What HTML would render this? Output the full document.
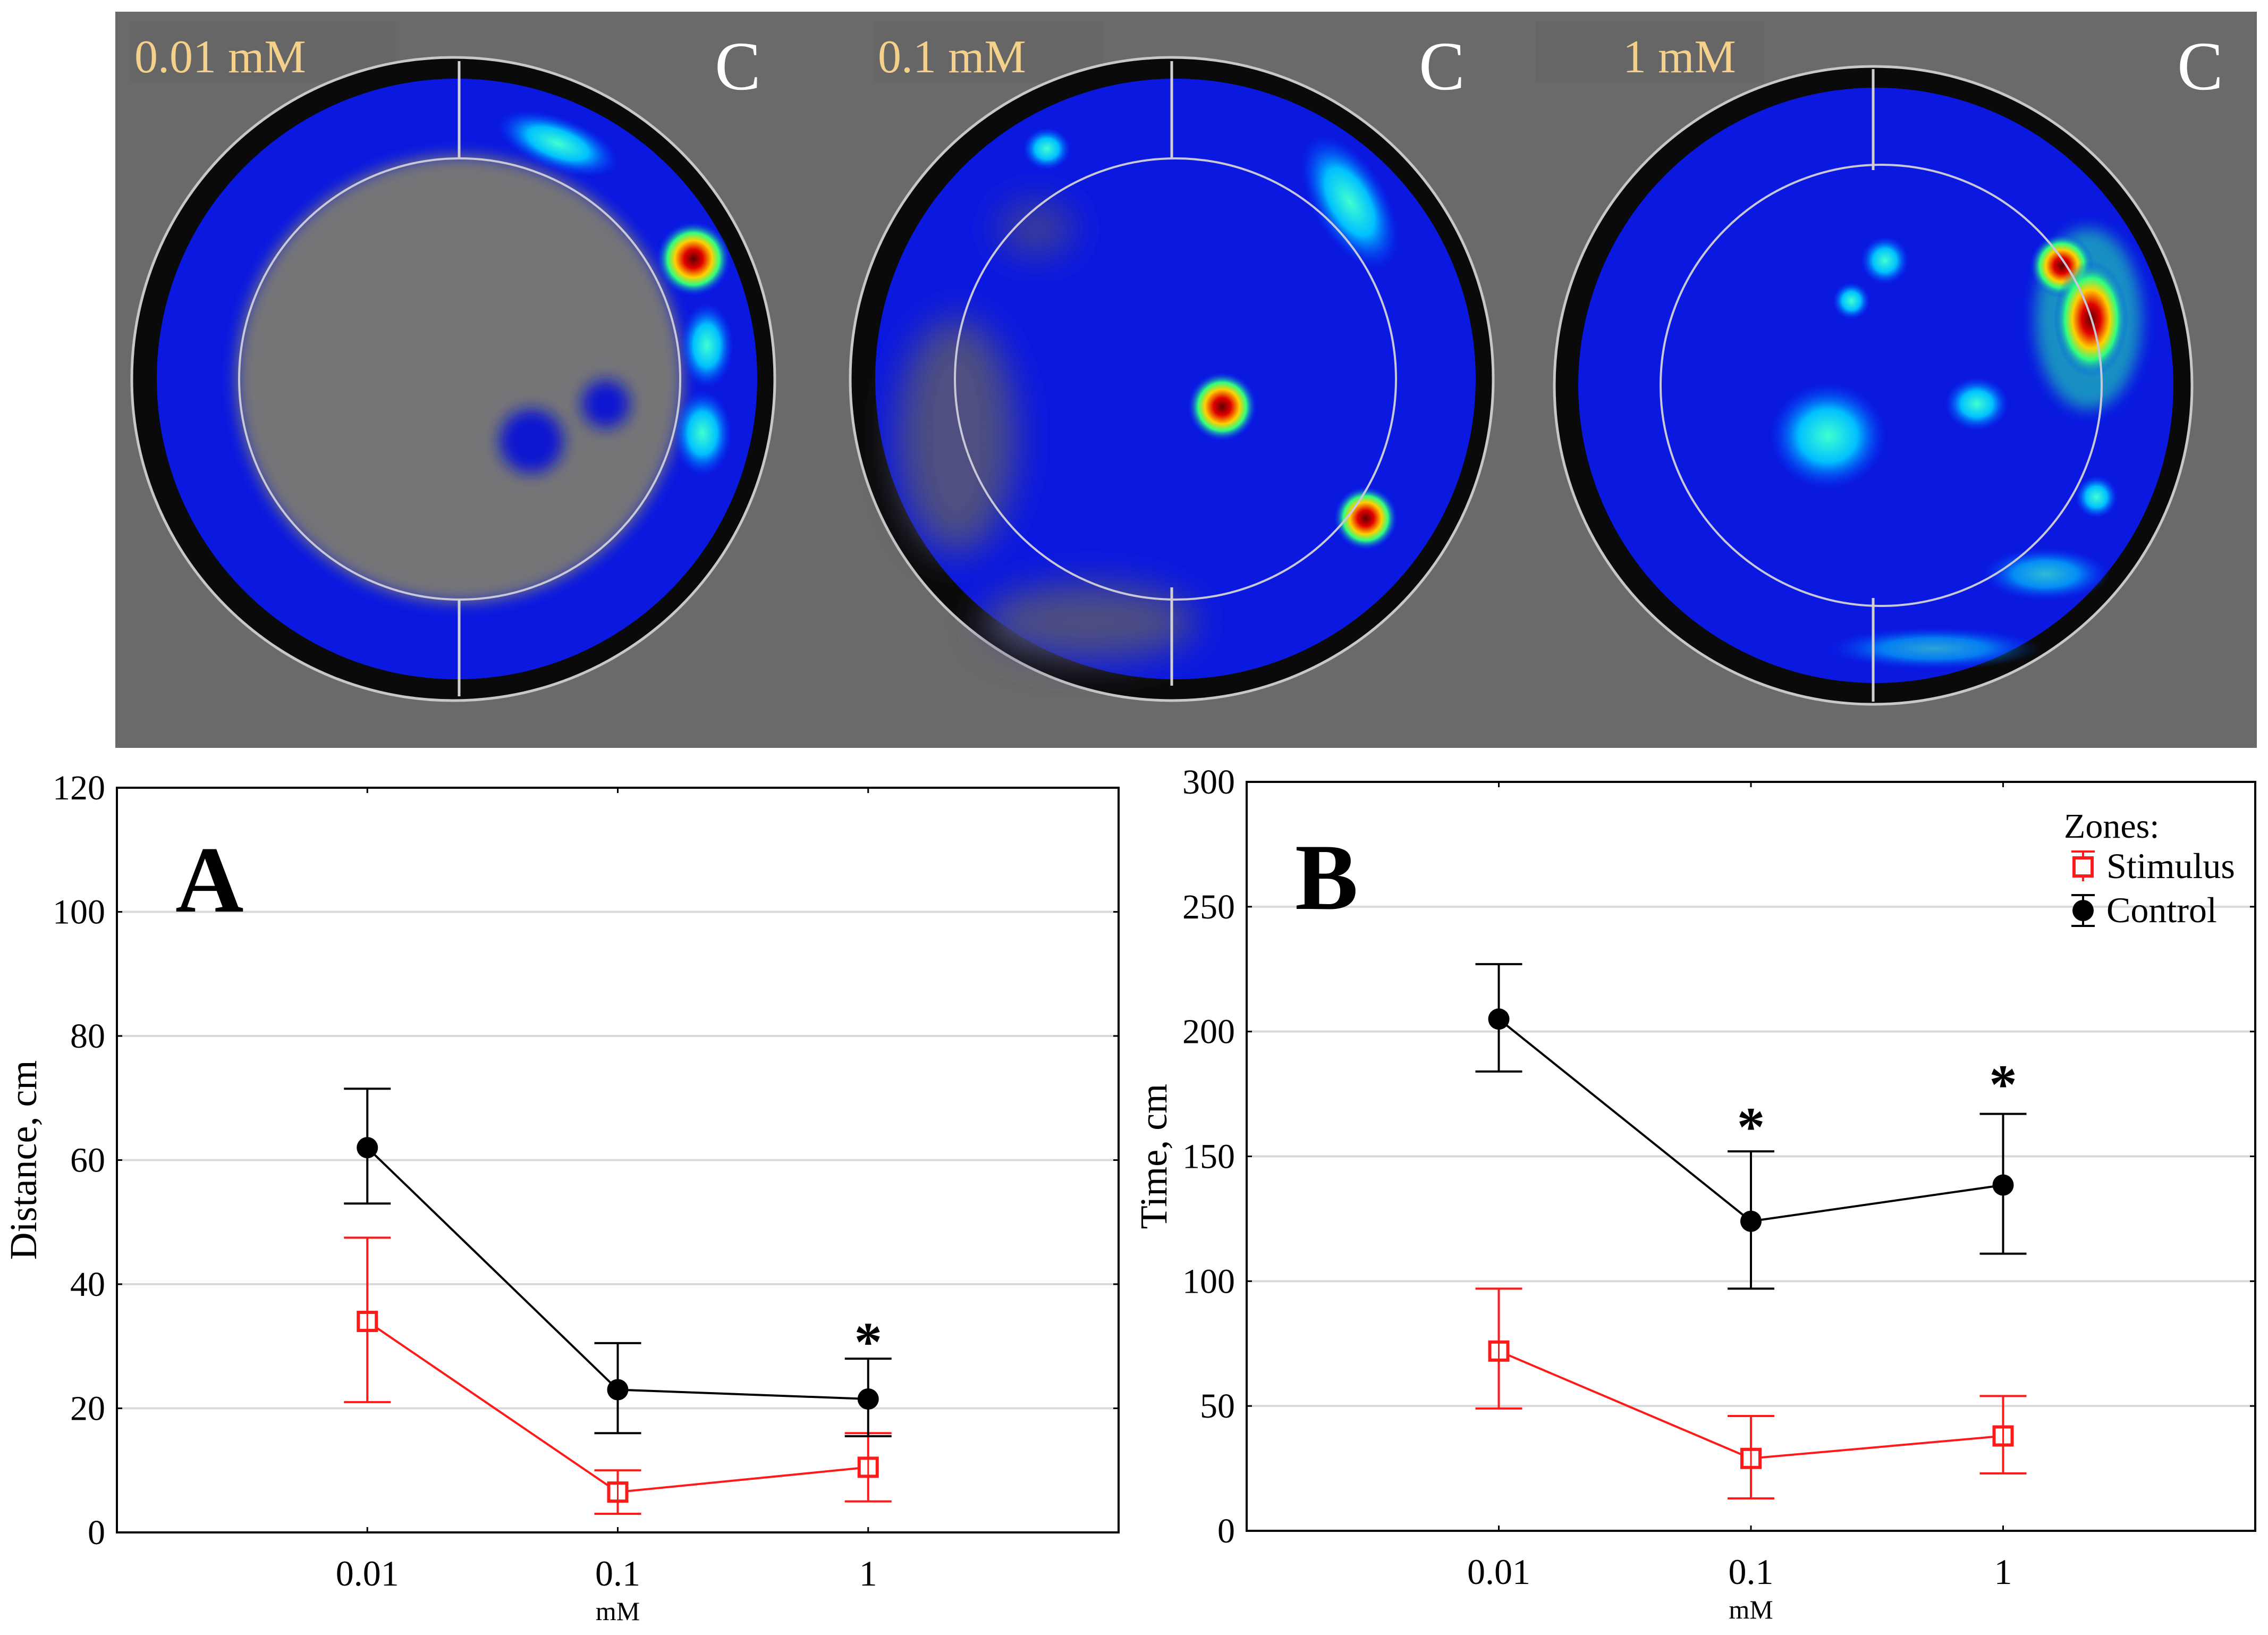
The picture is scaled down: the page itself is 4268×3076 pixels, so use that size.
<!DOCTYPE html>
<html><head><meta charset="utf-8"><style>
html,body{margin:0;padding:0;background:#fff;}
svg{display:block;}
text{font-family:"Liberation Serif",serif;}
</style></head><body>
<svg id="fig" width="4268" height="3076" viewBox="0 0 4268 3076" xmlns="http://www.w3.org/2000/svg">
<defs>
<filter id="bl" x="-50%" y="-50%" width="200%" height="200%"><feGaussianBlur stdDeviation="35"/></filter>
<filter id="bl2" x="-50%" y="-50%" width="200%" height="200%"><feGaussianBlur stdDeviation="14"/></filter>
<radialGradient id="hot"><stop offset="0" stop-color="#600000"/><stop offset="0.25" stop-color="#e00000"/><stop offset="0.5" stop-color="#ffd000"/><stop offset="0.7" stop-color="#30ff80"/><stop offset="1" stop-color="#0030ff" stop-opacity="0"/></radialGradient>
<radialGradient id="cyan"><stop offset="0" stop-color="#40ffd0"/><stop offset="0.5" stop-color="#00c0ff"/><stop offset="1" stop-color="#0040ff" stop-opacity="0"/></radialGradient>
</defs>
<g>
<rect x="217" y="22" width="4030" height="1385" fill="#6a6a6a"/>
<rect x="245" y="40" width="500" height="115" fill="#666"/>
<rect x="1645" y="40" width="430" height="115" fill="#666"/>
<rect x="2890" y="40" width="430" height="115" fill="#666"/>
<g>
<circle cx="853" cy="713" r="605" fill="#0a0a0a" stroke="#c8c8c8" stroke-width="5"/>
<circle cx="860" cy="713" r="565" fill="#0a18e0"/>
<circle cx="865" cy="713" r="420" fill="#747478" filter="url(#bl2)"/>
<circle cx="1000" cy="830" r="60" fill="#0a18d0" filter="url(#bl2)"/>
<circle cx="1140" cy="760" r="45" fill="#0a18d0" filter="url(#bl2)"/>
<ellipse cx="1050" cy="270" rx="120" ry="50" fill="url(#cyan)" transform="rotate(20 1050 270)"/>
<ellipse cx="1330" cy="650" rx="50" ry="80" fill="url(#cyan)"/>
<ellipse cx="1322" cy="815" rx="55" ry="80" fill="url(#cyan)"/>
<circle cx="1305" cy="487" r="70" fill="url(#hot)"/>
<circle cx="865" cy="713" r="415" fill="none" stroke="#c8c8d8" stroke-width="4"/>
<line x1="864" y1="115" x2="864" y2="297" stroke="#d0d0d0" stroke-width="5"/>
<line x1="864" y1="1128" x2="864" y2="1310" stroke="#d0d0d0" stroke-width="5"/>
</g>
<g>
<circle cx="2205" cy="713" r="605" fill="#0a0a0a" stroke="#c8c8c8" stroke-width="5"/>
<circle cx="2212" cy="713" r="565" fill="#0a18e0"/>
<ellipse cx="1800" cy="820" rx="110" ry="220" fill="#505080" filter="url(#bl)"/>
<ellipse cx="2050" cy="1170" rx="200" ry="70" fill="#505080" filter="url(#bl)"/>
<ellipse cx="1950" cy="430" rx="70" ry="50" fill="#404090" filter="url(#bl)"/>
<ellipse cx="2540" cy="380" rx="70" ry="140" fill="url(#cyan)" transform="rotate(-30 2540 380)"/>
<ellipse cx="1970" cy="280" rx="45" ry="40" fill="url(#cyan)"/>
<circle cx="2300" cy="765" r="65" fill="url(#hot)"/>
<circle cx="2570" cy="975" r="60" fill="url(#hot)"/>
<circle cx="2212" cy="713" r="415" fill="none" stroke="#c8c8d8" stroke-width="4"/>
<line x1="2205" y1="115" x2="2205" y2="297" stroke="#d0d0d0" stroke-width="5"/>
<line x1="2205" y1="1105" x2="2205" y2="1290" stroke="#d0d0d0" stroke-width="5"/>
</g>
<g>
<circle cx="3525" cy="725" r="600" fill="#0a0a0a" stroke="#c8c8c8" stroke-width="5"/>
<circle cx="3530" cy="725" r="560" fill="#0a18e0"/>
<ellipse cx="3440" cy="820" rx="110" ry="100" fill="url(#cyan)"/>
<ellipse cx="3720" cy="760" rx="60" ry="50" fill="url(#cyan)"/>
<ellipse cx="3850" cy="1080" rx="120" ry="50" fill="url(#cyan)" opacity="0.7"/>
<ellipse cx="3640" cy="1220" rx="200" ry="40" fill="url(#cyan)" opacity="0.6"/>
<ellipse cx="3930" cy="600" rx="100" ry="170" fill="#20e0b0" filter="url(#bl2)" opacity="0.6"/>
<ellipse cx="3880" cy="500" rx="60" ry="60" fill="url(#hot)"/>
<ellipse cx="3935" cy="600" rx="70" ry="110" fill="url(#hot)"/>
<circle cx="3547" cy="490" r="45" fill="url(#cyan)"/>
<circle cx="3484" cy="566" r="35" fill="url(#cyan)"/>
<circle cx="3945" cy="935" r="40" fill="url(#cyan)"/>
<circle cx="3540" cy="725" r="415" fill="none" stroke="#c8c8d8" stroke-width="4"/>
<line x1="3525" y1="130" x2="3525" y2="320" stroke="#d0d0d0" stroke-width="5"/>
<line x1="3525" y1="1125" x2="3525" y2="1320" stroke="#d0d0d0" stroke-width="5"/>
</g>
<text x="253" y="136" font-size="88" fill="#f5d08a">0.01 mM</text>
<text x="1652" y="136" font-size="88" fill="#f5d08a">0.1 mM</text>
<text x="3054" y="136" font-size="88" fill="#f5d08a">1 mM</text>
<text x="1345" y="168" font-size="130" fill="#fff">C</text>
<text x="2670" y="168" font-size="130" fill="#fff">C</text>
<text x="4097" y="168" font-size="130" fill="#fff">C</text>
</g>
<g id="chartA"></g>
<g id="chartB"></g>
</svg>
<script>
const categories = ["0.01","0.1","1"];
const aTicks = [0,20,40,60,80,100,120];
const aControl = [62,23,21.5];
const aControlLo = [53,16,15.5];
const aControlHi = [71.5,30.5,28];
const aStim = [34,6.5,10.5];
const aStimLo = [21,3,5];
const aStimHi = [47.5,10,16];
const aStars = [null,null,32];
const bTicks = [0,50,100,150,200,250,300];
const bControl = [205,124,138.5];
const bControlLo = [184,97,111];
const bControlHi = [227,152,167];
const bStim = [72,29,38];
const bStimLo = [49,13,23];
const bStimHi = [97,46,54];
const bStars = [null,165,182];

const NS="http://www.w3.org/2000/svg";
function mk(parent,tag,attrs,txt){const e=document.createElementNS(NS,tag);for(const k in attrs)e.setAttribute(k,attrs[k]);if(txt!==undefined)e.textContent=txt;parent.appendChild(e);return e;}

function drawChart(g,cfg){
  const L=cfg.left,R=cfg.right,T=cfg.top,B=cfg.bottom,maxV=cfg.ticks[cfg.ticks.length-1];
  const y=v=>B-(v/maxV)*(B-T);
  const x=i=>L+(R-L)*(0.25+i*0.25);
  for(const t of cfg.ticks){
    if(t>0&&t<maxV){const gl=mk(g,'line',{x1:L,x2:R,y1:y(t),y2:y(t),stroke:'#d9d9d9','stroke-width':4});
      
      }
    const tk=mk(g,'line',{x1:L,x2:L+10,y1:y(t),y2:y(t),stroke:'#000','stroke-width':3});
    
    
    mk(g,'line',{x1:R,x2:R-10,y1:y(t),y2:y(t),stroke:'#000','stroke-width':3});
    const tl=mk(g,'text',{x:L-22,y:y(t)+22,'font-size':66,'text-anchor':'end'},String(t));
    
    
  }
  const fr=mk(g,'rect',{x:L,y:T,width:R-L,height:B-T,fill:'none',stroke:'#000','stroke-width':4});
  
  
  categories.forEach((c,i)=>{
    mk(g,'line',{x1:x(i),x2:x(i),y1:B,y2:B-10,stroke:'#000','stroke-width':3});
    mk(g,'line',{x1:x(i),x2:x(i),y1:T,y2:T+10,stroke:'#000','stroke-width':3});
    const xl=mk(g,'text',{x:x(i),y:B+100,'font-size':68,'text-anchor':'middle'},c);
    
    
  });
  const xt=mk(g,'text',{x:(L+R)/2,y:B+165,'font-size':50,'text-anchor':'middle'},'mM');
  
  
  const yt=mk(g,'text',{x:0,y:0,'font-size':72,'text-anchor':'middle',transform:`translate(${cfg.ytx},${(T+B)/2}) rotate(-90)`},cfg.ytitle);
  
  
  const pl=mk(g,'text',{x:cfg.lx,y:cfg.ly,'font-size':178,'font-weight':'bold'},cfg.letter);
  
  
  function series(vals,lo,hi,col,kind,name){
    const sg=mk(g,'g',{});
    
    
    mk(sg,'polyline',{points:vals.map((v,i)=>x(i)+','+y(v)).join(' '),fill:'none',stroke:col,'stroke-width':4});
    vals.forEach((v,i)=>{
      const eb=mk(sg,'path',{d:`M${x(i)},${y(lo[i])}V${y(hi[i])}M${x(i)-44},${y(lo[i])}H${x(i)+44}M${x(i)-44},${y(hi[i])}H${x(i)+44}`,stroke:col,'stroke-width':4,fill:'none'});
      
      
      let m;
      if(kind==='circle'){m=mk(sg,'circle',{cx:x(i),cy:y(v),r:20,fill:col});}
      else{m=mk(sg,'rect',{x:x(i)-17,y:y(v)-17,width:34,height:34,fill:'#fff',stroke:col,'stroke-width':6});
        mk(sg,'line',{x1:x(i),x2:x(i),y1:y(v)-17,y2:y(v)+17,stroke:col,'stroke-width':3});}
      
      
    });
  }
  series(cfg.stim,cfg.stimLo,cfg.stimHi,'#ff1a1a','square','series-stimulus');
  series(cfg.ctrl,cfg.ctrlLo,cfg.ctrlHi,'#000','circle','series-control');
  cfg.stars.forEach((s,i)=>{if(s!==null){const st=mk(g,'text',{x:x(i),y:y(s)+50,'font-size':105,'font-weight':'bold','text-anchor':'middle'},'*');
    
    }});
}
drawChart(document.getElementById('chartA'),{left:220,right:2105,top:1482,bottom:2883,ticks:aTicks,ctrl:aControl,ctrlLo:aControlLo,ctrlHi:aControlHi,stim:aStim,stimLo:aStimLo,stimHi:aStimHi,stars:aStars,ytitle:'Distance, cm',ytx:68,letter:'A',lx:330,ly:1715});
drawChart(document.getElementById('chartB'),{left:2346,right:4244,top:1471,bottom:2880,ticks:bTicks,ctrl:bControl,ctrlLo:bControlLo,ctrlHi:bControlHi,stim:bStim,stimLo:bStimLo,stimHi:bStimHi,stars:bStars,ytitle:'Time, cm',ytx:2195,letter:'B',lx:2437,ly:1710});
const gB=document.getElementById('chartB');
const lg=mk(gB,'g',{});


mk(lg,'text',{x:3884,y:1576,'font-size':66},'Zones:');
const le1=mk(lg,'g',{});


mk(le1,'path',{d:'M3898,1602H3942M3920,1602V1658',stroke:'#ff1a1a','stroke-width':4});
mk(le1,'rect',{x:3903,y:1614,width:34,height:34,fill:'#fff',stroke:'#ff1a1a','stroke-width':6});
mk(le1,'text',{x:3964,y:1652,'font-size':68},'Stimulus');
const le2=mk(lg,'g',{});


mk(le2,'path',{d:'M3898,1684H3942M3920,1684V1742M3898,1742H3942',stroke:'#000','stroke-width':4});
mk(le2,'circle',{cx:3920,cy:1713,r:20,fill:'#000'});
mk(le2,'text',{x:3964,y:1735,'font-size':68},'Control');
</script>
</body></html>
